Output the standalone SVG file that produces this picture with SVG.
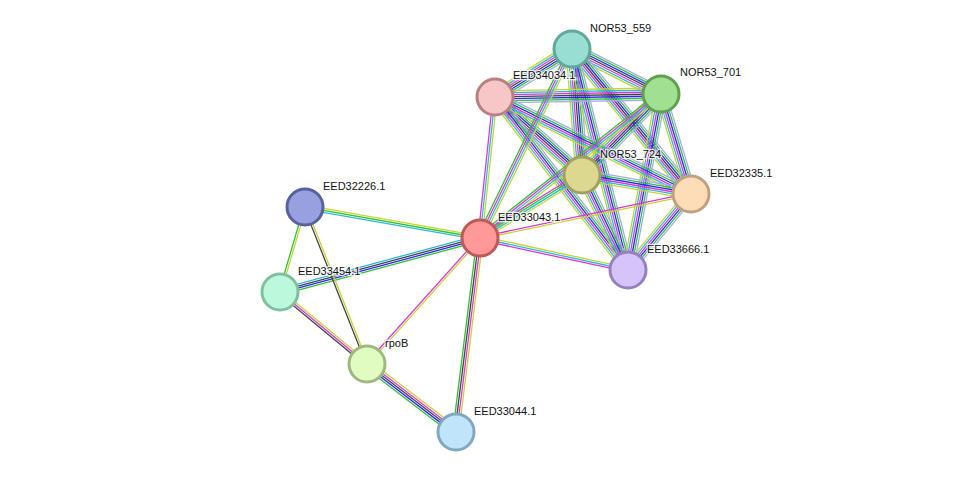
<svg xmlns="http://www.w3.org/2000/svg" width="976" height="478" viewBox="0 0 976 478">
<style>
line{stroke-width:1.3}
.lp{stroke:#a8a8f8}.gr{stroke:#33c033}.bl{stroke:#2828f0}.bk{stroke:#444}.mg{stroke:#d838d8}.cy{stroke:#30b8d8}.yg{stroke:#c4d434}
circle{stroke-width:3}
text{font-family:"Liberation Sans",Arial,sans-serif;font-size:11px;fill:#111;paint-order:stroke;stroke:#fff;stroke-width:2.5px;stroke-opacity:.8}
</style>
<rect width="976" height="478" fill="#fff"/>
<g id="edges">
<g transform="translate(572 49) rotate(26.8)"><line x2="99.7" y1="-6" y2="-6" class="lp"/><line x2="99.7" y1="-4" y2="-4" class="gr"/><line x2="99.7" y1="-2" y2="-2" class="bl"/><line x2="99.7" class="bk"/><line x2="99.7" y1="2" y2="2" class="mg"/><line x2="99.7" y1="4" y2="4" class="cy"/><line x2="99.7" y1="6" y2="6" class="yg"/></g>
<g transform="translate(572 49) rotate(148.1)"><line x2="90.7" y1="-6" y2="-6" class="lp"/><line x2="90.7" y1="-4" y2="-4" class="gr"/><line x2="90.7" y1="-2" y2="-2" class="bl"/><line x2="90.7" class="bk"/><line x2="90.7" y1="2" y2="2" class="mg"/><line x2="90.7" y1="4" y2="4" class="cy"/><line x2="90.7" y1="6" y2="6" class="yg"/></g>
<g transform="translate(572 49) rotate(85.5)"><line x2="126.4" y1="-6" y2="-6" class="lp"/><line x2="126.4" y1="-4" y2="-4" class="gr"/><line x2="126.4" y1="-2" y2="-2" class="bl"/><line x2="126.4" class="bk"/><line x2="126.4" y1="2" y2="2" class="mg"/><line x2="126.4" y1="4" y2="4" class="cy"/><line x2="126.4" y1="6" y2="6" class="yg"/></g>
<g transform="translate(572 49) rotate(50.6)"><line x2="187.6" y1="-6" y2="-6" class="lp"/><line x2="187.6" y1="-4" y2="-4" class="gr"/><line x2="187.6" y1="-2" y2="-2" class="bl"/><line x2="187.6" class="bk"/><line x2="187.6" y1="2" y2="2" class="mg"/><line x2="187.6" y1="4" y2="4" class="cy"/><line x2="187.6" y1="6" y2="6" class="yg"/></g>
<g transform="translate(572 49) rotate(75.8)"><line x2="228" y1="-5" y2="-5" class="lp"/><line x2="228" y1="-3" y2="-3" class="gr"/><line x2="228" y1="-1" y2="-1" class="bl"/><line x2="228" y1="1" y2="1" class="mg"/><line x2="228" y1="3" y2="3" class="cy"/><line x2="228" y1="5" y2="5" class="yg"/></g>
<g transform="translate(661 94) rotate(179)"><line x2="166" y1="-6" y2="-6" class="lp"/><line x2="166" y1="-4" y2="-4" class="gr"/><line x2="166" y1="-2" y2="-2" class="bl"/><line x2="166" class="bk"/><line x2="166" y1="2" y2="2" class="mg"/><line x2="166" y1="4" y2="4" class="cy"/><line x2="166" y1="6" y2="6" class="yg"/></g>
<g transform="translate(661 94) rotate(134.3)"><line x2="113.1" y1="-6" y2="-6" class="lp"/><line x2="113.1" y1="-4" y2="-4" class="gr"/><line x2="113.1" y1="-2" y2="-2" class="bl"/><line x2="113.1" class="bk"/><line x2="113.1" y1="2" y2="2" class="mg"/><line x2="113.1" y1="4" y2="4" class="cy"/><line x2="113.1" y1="6" y2="6" class="yg"/></g>
<g transform="translate(661 94) rotate(73.3)"><line x2="104.4" y1="-5" y2="-5" class="lp"/><line x2="104.4" y1="-3" y2="-3" class="gr"/><line x2="104.4" y1="-1" y2="-1" class="bl"/><line x2="104.4" y1="1" y2="1" class="mg"/><line x2="104.4" y1="3" y2="3" class="cy"/><line x2="104.4" y1="5" y2="5" class="yg"/></g>
<g transform="translate(661 94) rotate(100.6)"><line x2="179.1" y1="-5" y2="-5" class="lp"/><line x2="179.1" y1="-3" y2="-3" class="gr"/><line x2="179.1" y1="-1" y2="-1" class="bl"/><line x2="179.1" y1="1" y2="1" class="mg"/><line x2="179.1" y1="3" y2="3" class="cy"/><line x2="179.1" y1="5" y2="5" class="yg"/></g>
<g transform="translate(495 97) rotate(41.9)"><line x2="116.8" y1="-6" y2="-6" class="lp"/><line x2="116.8" y1="-4" y2="-4" class="gr"/><line x2="116.8" y1="-2" y2="-2" class="bl"/><line x2="116.8" class="bk"/><line x2="116.8" y1="2" y2="2" class="mg"/><line x2="116.8" y1="4" y2="4" class="cy"/><line x2="116.8" y1="6" y2="6" class="yg"/></g>
<g transform="translate(495 97) rotate(26.3)"><line x2="218.7" y1="-5" y2="-5" class="lp"/><line x2="218.7" y1="-3" y2="-3" class="gr"/><line x2="218.7" y1="-1" y2="-1" class="bl"/><line x2="218.7" y1="1" y2="1" class="mg"/><line x2="218.7" y1="3" y2="3" class="cy"/><line x2="218.7" y1="5" y2="5" class="yg"/></g>
<g transform="translate(495 97) rotate(52.4)"><line x2="218.2" y1="-5" y2="-5" class="lp"/><line x2="218.2" y1="-3" y2="-3" class="gr"/><line x2="218.2" y1="-1" y2="-1" class="bl"/><line x2="218.2" y1="1" y2="1" class="mg"/><line x2="218.2" y1="3" y2="3" class="cy"/><line x2="218.2" y1="5" y2="5" class="yg"/></g>
<g transform="translate(582 175) rotate(9.9)"><line x2="110.6" y1="-5" y2="-5" class="lp"/><line x2="110.6" y1="-3" y2="-3" class="gr"/><line x2="110.6" y1="-1" y2="-1" class="bl"/><line x2="110.6" y1="1" y2="1" class="mg"/><line x2="110.6" y1="3" y2="3" class="cy"/><line x2="110.6" y1="5" y2="5" class="yg"/></g>
<g transform="translate(582 175) rotate(64.2)"><line x2="105.6" y1="-5" y2="-5" class="lp"/><line x2="105.6" y1="-3" y2="-3" class="gr"/><line x2="105.6" y1="-1" y2="-1" class="bl"/><line x2="105.6" y1="1" y2="1" class="mg"/><line x2="105.6" y1="3" y2="3" class="cy"/><line x2="105.6" y1="5" y2="5" class="yg"/></g>
<g transform="translate(691 194) rotate(129.7)"><line x2="98.7" y1="-5" y2="-5" class="lp"/><line x2="98.7" y1="-3" y2="-3" class="gr"/><line x2="98.7" y1="-1" y2="-1" class="bl"/><line x2="98.7" y1="1" y2="1" class="mg"/><line x2="98.7" y1="3" y2="3" class="cy"/><line x2="98.7" y1="5" y2="5" class="yg"/></g>
<g transform="translate(480 238) rotate(-64.1)"><line x2="210.2" y1="-3" y2="-3" class="gr"/><line x2="210.2" y1="-1" y2="-1" class="mg"/><line x2="210.2" y1="1" y2="1" class="cy"/><line x2="210.2" y1="3" y2="3" class="yg"/></g>
<g transform="translate(480 238) rotate(-38.5)"><line x2="231.3" y1="-3" y2="-3" class="gr"/><line x2="231.3" y1="-1" y2="-1" class="mg"/><line x2="231.3" y1="1" y2="1" class="cy"/><line x2="231.3" y1="3" y2="3" class="yg"/></g>
<g transform="translate(480 238) rotate(-83.9)"><line x2="141.8" y1="-2" y2="-2" class="mg"/><line x2="141.8" class="cy"/><line x2="141.8" y1="2" y2="2" class="yg"/></g>
<g transform="translate(480 238) rotate(-31.7)"><line x2="119.9" y1="-3" y2="-3" class="mg"/><line x2="119.9" y1="-1" y2="-1" class="gr"/><line x2="119.9" y1="1" y2="1" class="cy"/><line x2="119.9" y1="3" y2="3" class="yg"/></g>
<g transform="translate(480 238) rotate(-11.8)"><line x2="215.5" y1="-1" y2="-1" class="mg"/><line x2="215.5" y1="1" y2="1" class="yg"/></g>
<g transform="translate(480 238) rotate(12.2)"><line x2="151.4" y1="-2" y2="-2" class="yg"/><line x2="151.4" class="cy"/><line x2="151.4" y1="2" y2="2" class="mg"/></g>
<g transform="translate(480 238) rotate(190)"><line x2="177.7" y1="-2" y2="-2" class="cy"/><line x2="177.7" class="gr"/><line x2="177.7" y1="2" y2="2" class="yg"/></g>
<g transform="translate(480 238) rotate(164.9)"><line x2="207.2" y1="-3" y2="-3" class="gr"/><line x2="207.2" y1="-1" y2="-1" class="bl"/><line x2="207.2" y1="1" y2="1" class="bk"/><line x2="207.2" y1="3" y2="3" class="cy"/></g>
<g transform="translate(480 238) rotate(131.9)"><line x2="169.2" y1="-1" y2="-1" class="yg"/><line x2="169.2" y1="1" y2="1" class="mg"/></g>
<g transform="translate(480 238) rotate(97.1)"><line x2="195.5" y1="-3" y2="-3" class="yg"/><line x2="195.5" y1="-1" y2="-1" class="mg"/><line x2="195.5" y1="1" y2="1" class="bk"/><line x2="195.5" y1="3" y2="3" class="gr"/></g>
<g transform="translate(305 207) rotate(106.4)"><line x2="88.6" y1="-1" y2="-1" class="yg"/><line x2="88.6" y1="1" y2="1" class="gr"/></g>
<g transform="translate(305 207) rotate(68.4)"><line x2="168.8" y1="-1" y2="-1" class="yg"/><line x2="168.8" y1="1" y2="1" class="bk"/></g>
<g transform="translate(280 292) rotate(39.6)"><line x2="112.9" y1="-2" y2="-2" class="yg"/><line x2="112.9" class="mg"/><line x2="112.9" y1="2" y2="2" class="bk"/></g>
<g transform="translate(367 364) rotate(37.4)"><line x2="112" y1="-4" y2="-4" class="yg"/><line x2="112" y1="-2" y2="-2" class="mg"/><line x2="112" class="bk"/><line x2="112" y1="2" y2="2" class="bl"/><line x2="112" y1="4" y2="4" class="gr"/></g>
</g>
<g id="n559"><circle cx="572" cy="49" r="18" fill="#99ddd3" stroke="#5fa89b"/><text x="590" y="32">NOR53_559</text></g>
<g id="n701"><circle cx="661" cy="94" r="18" fill="#a0e090" stroke="#60a050"/><text x="680" y="76">NOR53_701</text></g>
<g id="n34034"><circle cx="495" cy="97" r="18" fill="#f7c6c6" stroke="#b88080"/><text x="513" y="79">EED34034.1</text></g>
<g id="n724"><circle cx="582" cy="175" r="18" fill="#dcd890" stroke="#a0a060"/><text x="600" y="158">NOR53_724</text></g>
<g id="n32335"><circle cx="691" cy="194" r="18" fill="#fddcb8" stroke="#c0a080"/><text x="710" y="177">EED32335.1</text></g>
<g id="n33666"><circle cx="628" cy="270" r="18" fill="#d4c4fa" stroke="#9880c0"/><text x="647" y="253">EED33666.1</text></g>
<g id="n33043"><circle cx="480" cy="238" r="18" fill="#ff9898" stroke="#c05858"/><text x="498" y="221">EED33043.1</text></g>
<g id="n32226"><circle cx="305" cy="207" r="18" fill="#98a0e0" stroke="#5860a0"/><text x="323" y="190">EED32226.1</text></g>
<g id="n33454"><circle cx="280" cy="292" r="18" fill="#bcf8dc" stroke="#80c0a0"/><text x="298" y="275">EED33454.1</text></g>
<g id="nrpoB"><circle cx="367" cy="364" r="18" fill="#e0fcc0" stroke="#a0b880"/><text x="385" y="347">rpoB</text></g>
<g id="n33044"><circle cx="456" cy="432" r="18" fill="#c0e4fa" stroke="#80a8c0"/><text x="474" y="415">EED33044.1</text></g>
</svg>
